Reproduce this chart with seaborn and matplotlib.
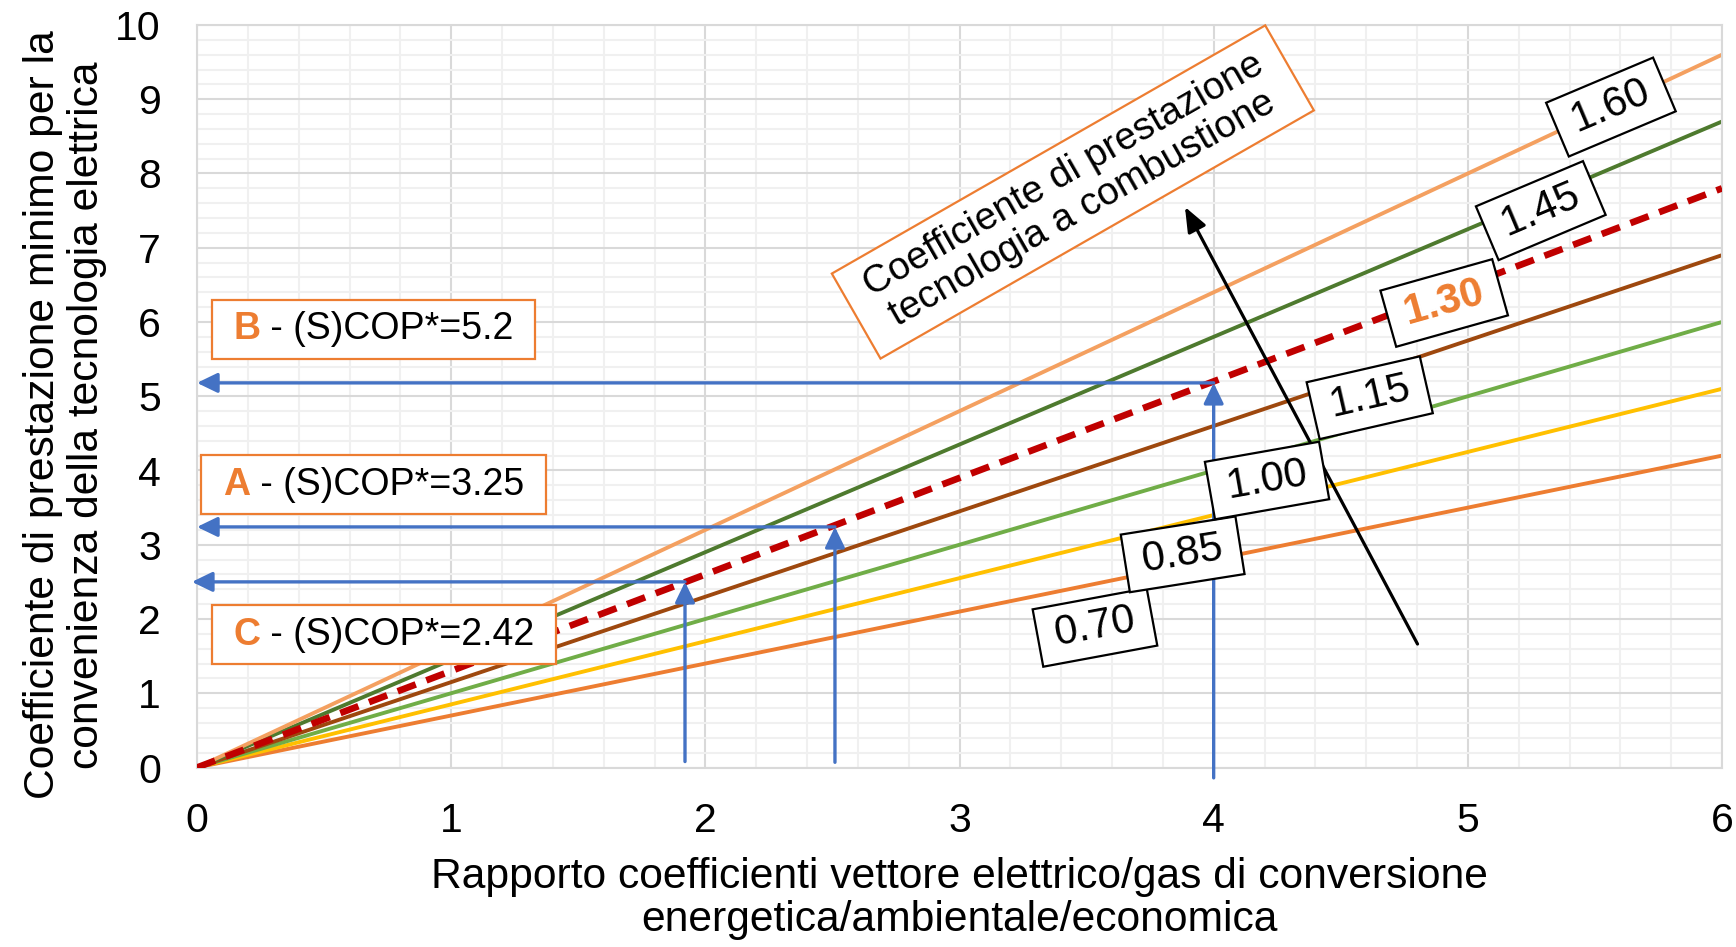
import pandas as pd
import matplotlib.pyplot as plt
import seaborn as sns
from matplotlib.ticker import MultipleLocator
from matplotlib.offsetbox import TextArea, HPacker, AnnotationBbox

# values
x_ends = [0, 6]
ratios = ['0.70', '0.85', '1.00', '1.15', '1.30', '1.45', '1.60']
y_start = [0, 0, 0, 0, 0, 0, 0]
y_end = [4.2, 5.1, 6.0, 6.9, 7.8, 8.7, 9.6]

cases = ['A', 'B', 'C']
case_cop = ['3.25', '5.2', '2.42']
case_x = [2.51, 4.0, 1.92]
case_y = [3.24, 5.18, 2.50]

line_colors = ['#ED7D31', '#FFC000', '#70AD47', '#9E480E', '#C00000', '#4E7A2E', '#F4A060']
orange = '#ED7D31'
blue = '#4472C4'

sns.set_theme(style='white')
plt.rcParams['font.family'] = ['Liberation Sans', 'DejaVu Sans']

rows = []
for r, y0, y1 in zip(ratios, y_start, y_end):
    rows.append({'x': x_ends[0], 'y': y0, 'ratio': r})
    rows.append({'x': x_ends[1], 'y': y1, 'ratio': r})
df = pd.DataFrame(rows)

fig = plt.figure(figsize=(17.36, 9.47), dpi=100)
ax = fig.add_axes([197 / 1736, 1 - 767.5 / 947, (1722 - 197) / 1736, (767.5 - 25) / 947])

# lines, dashed 1.30 drawn last so it sits on top
order = [0, 1, 2, 3, 5, 6, 4]
for i in order:
    r = ratios[i]
    d = df[df['ratio'] == r]
    if r == '1.30':
        sns.lineplot(data=d, x='x', y='y', color=line_colors[i], lw=4.8, ax=ax, zorder=3)
        ax.lines[-1].set_linestyle((0, (2.9, 1.7)))
    else:
        sns.lineplot(data=d, x='x', y='y', color=line_colors[i], lw=2.8, ax=ax, zorder=2)

ax.set_xlim(0, 6)
ax.set_ylim(0, 10)
ax.set_xticks(range(0, 7))
ax.set_yticks(range(0, 11))
ax.xaxis.set_minor_locator(MultipleLocator(0.2))
ax.yaxis.set_minor_locator(MultipleLocator(0.2))
ax.grid(which='minor', color='#f0f0f0', lw=1.5, zorder=0)
ax.grid(which='major', color='#d9d9d9', lw=1.5, zorder=0)
ax.set_axisbelow(True)
for s in ax.spines.values():
    s.set_color('#d9d9d9')
    s.set_linewidth(1.5)
ax.tick_params(which='both', length=0, labelsize=29.5, labelcolor='black')
ax.tick_params(axis='x', pad=25)
ax.tick_params(axis='y', pad=26)

ax.set_xlabel('Rapporto coefficienti vettore elettrico/gas di conversione\nenergetica/ambientale/economica',
              fontsize=30.7, labelpad=12, linespacing=1.1, color='black')
ax.set_ylabel('Coefficiente di prestazione minimo per la\nconvenienza della tecnologia elettrica',
              fontsize=30.7, linespacing=1.12, color='black')
ax.yaxis.set_label_coords(-0.059, 0.475)

# blue reading arrows
bottoms = {'A': 0.07, 'B': -0.14, 'C': 0.08}
left_tips = {'A': 0.0, 'B': 0.0, 'C': -0.02}
arrow_style = '-|>,head_length=0.62,head_width=0.3'
for c, cx, cy in zip(cases, case_x, case_y):
    ax.annotate('', xy=(cx, cy), xytext=(cx, bottoms[c]), annotation_clip=False,
                arrowprops=dict(arrowstyle=arrow_style, color=blue, lw=2.4,
                                shrinkA=0, shrinkB=0, mutation_scale=20), zorder=4)
    ax.annotate('', xy=(left_tips[c], cy), xytext=(cx, cy), annotation_clip=False,
                arrowprops=dict(arrowstyle=arrow_style, color=blue, lw=2.4,
                                shrinkA=0, shrinkB=0, mutation_scale=20), zorder=4)

# black arrow towards rising combustion performance
ax.annotate('', xy=(3.887, 7.55), xytext=(4.802, 1.663),
            arrowprops=dict(arrowstyle='-|>,head_length=0.75,head_width=0.3', color='black', lw=2.3,
                            shrinkA=0, shrinkB=0, mutation_scale=20), zorder=5)

# ratio labels on the lines
label_place = {
    '0.70': (3.533, 1.886, 10.5),
    '0.85': (3.878, 2.871, 9.0),
    '1.00': (4.21, 3.865, 10.0),
    '1.15': (4.614, 4.98, 12.9),
    '1.30': (4.907, 6.256, 15.7),
    '1.45': (5.287, 7.50, 22.9),
    '1.60': (5.563, 8.895, 22.9),
}
for r in ratios:
    lx, ly, ang = label_place[r]
    bold = r == '1.30'
    ax.text(lx, ly, '\u2009' + r + '\u2009', rotation=ang, rotation_mode='anchor', ha='center', va='center',
            fontsize=30, color=orange if bold else 'black', fontweight='bold' if bold else 'normal',
            bbox=dict(boxstyle='square,pad=0.22', fc='white', ec='black', lw=1.6), zorder=6)

# rotated title box
ax.text(3.446, 7.751, ' Coefficiente di prestazione \n tecnologia a combustione ', rotation=29.8,
        rotation_mode='anchor', ha='center', va='center', multialignment='center', linespacing=1.1,
        fontsize=27.8, color='black',
        bbox=dict(boxstyle='square,pad=0.3', fc='white', ec=orange, lw=1.6), zorder=6)

# case boxes
box_place = {'B': (0.694, 5.899), 'A': (0.694, 3.811), 'C': (0.736, 1.791)}
for c, cop in zip(cases, case_cop):
    t0 = TextArea(' ', textprops=dict(color='black', fontsize=27))
    t1 = TextArea(c, textprops=dict(color=orange, fontweight='bold', fontsize=27))
    t2 = TextArea(' - (S)COP*=' + cop + ' ', textprops=dict(color='black', fontsize=27))
    pack = HPacker(children=[t0, t1, t2], align='baseline', pad=0, sep=0)
    ab = AnnotationBbox(pack, box_place[c], xycoords='data', box_alignment=(0.5, 0.5), frameon=True,
                        pad=0.26, fontsize=27,
                        bboxprops=dict(boxstyle='square', fc='white', ec=orange, lw=1.6), zorder=6)
    ax.add_artist(ab)

fig.savefig('out.png', dpi=100, facecolor='white')
